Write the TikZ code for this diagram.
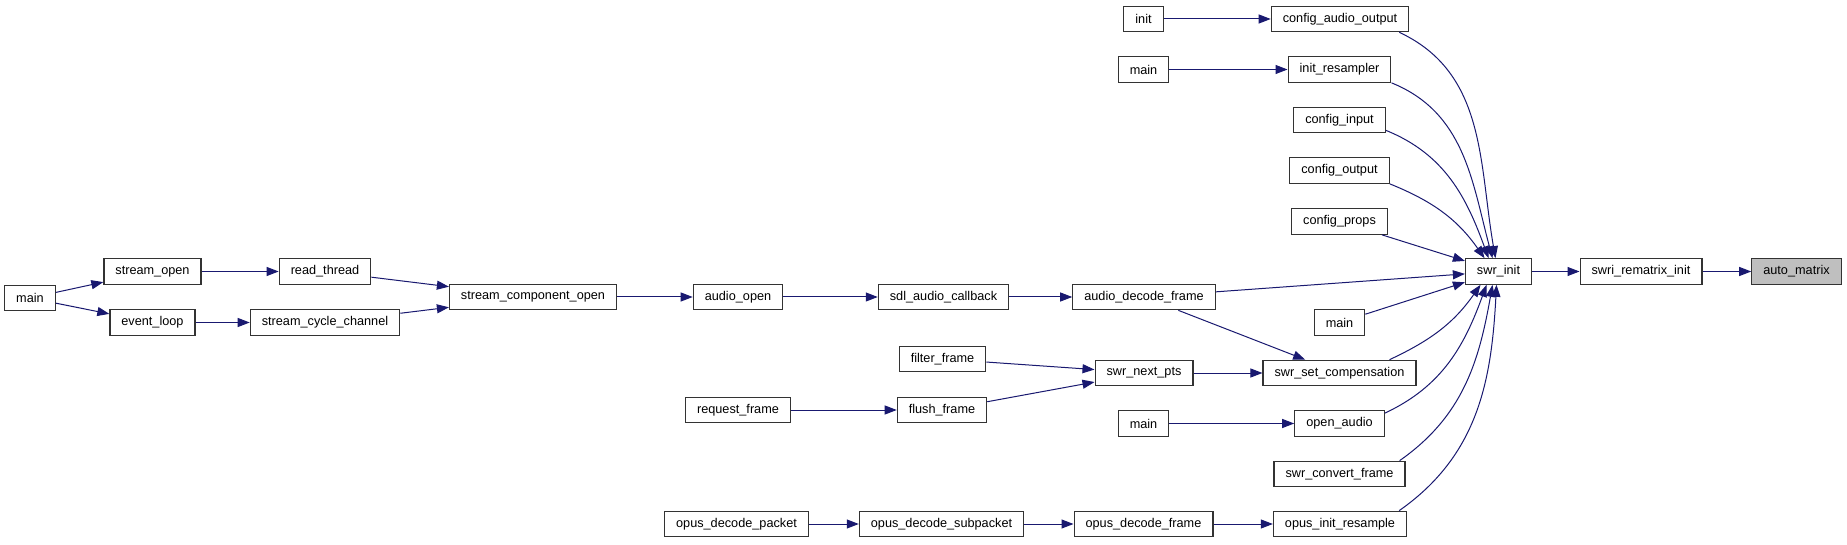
\documentclass[tikz,border=0pt]{standalone}
\usepackage{fontspec}
\setmainfont{Liberation Sans}
\usetikzlibrary{arrows.meta, positioning}
\definecolor{edgeblue}{RGB}{25,25,112}
\definecolor{hilite}{RGB}{191,191,191}

\begin{document}
\begin{tikzpicture}[
    x=1pt, y=1pt,
    func/.style={draw=black!80, line width=1.2pt, fill=white, rectangle, minimum height=25.5pt, inner xsep=11.5pt, inner ysep=0pt, font=\fontsize{12.7}{14}\selectfont},
    arrow/.style={-{Triangle[length=12pt, width=9pt]}, draw=edgeblue, line width=1pt}
]
    \fill[white] (0,0) rectangle (1847,544);
    \useasboundingbox (0,0) rectangle (1847,544);

    % Player side of the call chain
    \node[func] (main) at (30,246) {main};
    \node[func] (streamopen) at (152.5,272.5) {stream\_open};
    \node[func] (eventloop) at (152.5,221.5) {event\_loop};
    \node[func] (readthread) at (325,272.5) {read\_thread};
    \node[func] (cyclechan) at (325,221.5) {stream\_cycle\_channel};
    \node[func] (compopen) at (533,247) {stream\_component\_open};
    \node[func] (audioopen) at (738,247) {audio\_open};
    \node[func] (sdlcb) at (943.5,247) {sdl\_audio\_callback};
    \node[func] (decframe) at (1144,247) {audio\_decode\_frame};

    % Filter side
    \node[func] (filterframe) at (942.5,185) {filter\_frame};
    \node[func] (nextpts) at (1144,171) {swr\_next\_pts};
    \node[func] (reqframe) at (738,134) {request\_frame};
    \node[func] (flushframe) at (942,134) {flush\_frame};

    % Opus decoder
    \node[func] (opuspacket) at (736.5,20) {opus\_decode\_packet};
    \node[func] (opussub) at (941.5,20) {opus\_decode\_subpacket};
    \node[func] (opusframe) at (1143.5,20) {opus\_decode\_frame};
    \node[func] (opusinit) at (1340,20) {opus\_init\_resample};

    % Direct callers of swr_init
    \node[func] (init) at (1143.5,525) {init};
    \node[func] (cao) at (1340,525) {config\_audio\_output};
    \node[func] (mainb) at (1143.5,474.5) {main};
    \node[func] (initres) at (1339.5,474.5) {init\_resampler};
    \node[func] (cfgin) at (1339.5,424) {config\_input};
    \node[func] (cfgout) at (1339.5,373.5) {config\_output};
    \node[func] (cfgprops) at (1339.5,322.5) {config\_props};
    \node[func] (mainc) at (1339.5,221.5) {main};
    \node[func] (swrcomp) at (1339.5,171) {swr\_set\_compensation};
    \node[func] (maind) at (1143.5,120.5) {main};
    \node[func] (openaudio) at (1339.5,120.5) {open\_audio};
    \node[func] (swrconv) at (1339.5,70) {swr\_convert\_frame};

    \node[func] (swrinit) at (1498.5,272.5) {swr\_init};
    \node[func] (rematrix) at (1641,272.5) {swri\_rematrix\_init};
    \node[func, fill=hilite] (automatrix) at (1796.5,272.5) {auto\_matrix};

    % Calls
    \draw[arrow] (main) -- (streamopen);
    \draw[arrow] (main) -- (eventloop);
    \draw[arrow] (streamopen) -- (readthread);
    \draw[arrow] (eventloop) -- (cyclechan);
    \draw[arrow] (readthread) -- (compopen);
    \draw[arrow] (cyclechan) -- (compopen);
    \draw[arrow] (compopen) -- (audioopen);
    \draw[arrow] (audioopen) -- (sdlcb);
    \draw[arrow] (sdlcb) -- (decframe);
    \draw[arrow] (decframe) -- (swrinit);
    \draw[arrow] (decframe) -- (swrcomp);
    \draw[arrow] (filterframe) -- (nextpts);
    \draw[arrow] (reqframe) -- (flushframe);
    \draw[arrow] (flushframe) -- (nextpts);
    \draw[arrow] (nextpts) -- (swrcomp);
    \draw[arrow] (opuspacket) -- (opussub);
    \draw[arrow] (opussub) -- (opusframe);
    \draw[arrow] (opusframe) -- (opusinit);
    \draw[arrow] (init) -- (cao);
    \draw[arrow] (mainb) -- (initres);
    \draw[arrow] (maind) -- (openaudio);
    \draw[arrow] (cfgprops) -- (swrinit);
    \draw[arrow] (mainc) -- (swrinit);

    % Curved calls into swr_init
    \draw[arrow] ([xshift=-10pt]cao.south east) to[out=-25, in=100] ([xshift=-3pt]swrinit.north);
    \draw[arrow] (initres.south east) to[out=-22, in=105] ([xshift=-6pt]swrinit.north);
    \draw[arrow] ([yshift=3pt]cfgin.south east) to[out=-22, in=110] ([xshift=-10pt]swrinit.north);
    \draw[arrow] (cfgout.south east) to[out=-22, in=125] ([xshift=-14pt]swrinit.north);
    \draw[arrow] ([xshift=-27pt]swrcomp.north east) to[out=25, in=-125] ([xshift=-18pt]swrinit.south);
    \draw[arrow] ([yshift=-3pt]openaudio.north east) to[out=25, in=-110] ([xshift=-12pt]swrinit.south);
    \draw[arrow] ([xshift=-6pt]swrconv.north east) to[out=35, in=-100] ([xshift=-6pt]swrinit.south);
    \draw[arrow] ([xshift=-8pt]opusinit.north east) to[out=35, in=-93] ([xshift=-2pt]swrinit.south);

    \draw[arrow] (swrinit) -- (rematrix);
    \draw[arrow] (rematrix) -- (automatrix);

\end{tikzpicture}
\end{document}
